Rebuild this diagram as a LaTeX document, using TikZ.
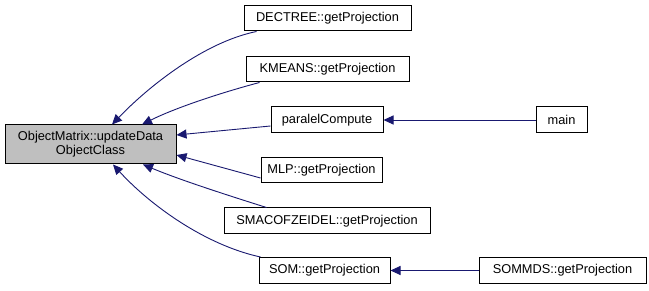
\documentclass[tikz,border=0pt]{standalone}
\usepackage{fontspec}
\setmainfont{Liberation Sans}
\usetikzlibrary{arrows.meta}
\definecolor{edgeblue}{RGB}{25,25,112}
\definecolor{focusgray}{RGB}{191,191,191}
\begin{document}
\begin{tikzpicture}[x=1pt,y=-1pt,
  fn/.style={draw=black,line width=1pt,fill=white,inner sep=0pt,
    font=\fontsize{12.8}{14}\selectfont,align=center},
  focus/.style={fn,fill=focusgray},
  call/.style={draw=edgeblue,line width=0.9pt,
    -{Triangle[length=10pt,width=9pt,fill=edgeblue]}}]
\useasboundingbox (0,0) rectangle (649,291);
\fill[white] (0,0) rectangle (649,291);

% callee
\node[focus,minimum width=171pt,minimum height=39pt] (obj) at (90.5,144.5)
  {ObjectMatrix::updateData\\ObjectClass};

% callers
\node[fn,minimum width=167pt,minimum height=25pt] (dectree) at (327.5,18.5) {DECTREE::getProjection};
\node[fn,minimum width=163pt,minimum height=25pt] (kmeans) at (327.5,69.5) {KMEANS::getProjection};
\node[fn,minimum width=112pt,minimum height=26pt] (paralel) at (327,120) {paralelCompute};
\node[fn,minimum width=51pt,minimum height=26pt] (mainfn) at (561.5,120) {main};
\node[fn,minimum width=121pt,minimum height=25pt] (mlp) at (321.5,170.5) {MLP::getProjection};
\node[fn,minimum width=206pt,minimum height=26pt] (smacof) at (327,221) {SMACOFZEIDEL::getProjection};
\node[fn,minimum width=131pt,minimum height=26pt] (som) at (324.5,270.5) {SOM::getProjection};
\node[fn,minimum width=167pt,minimum height=26pt] (sommds) at (562.5,270.5) {SOMMDS::getProjection};

% call edges
\draw[call] ([xshift=13pt]dectree.south west) .. controls (205,42) and (150,85) .. ([xshift=21.5pt]obj.north);
\draw[call] ([xshift=14pt]kmeans.south west) .. controls (220,93) and (175,108) .. ([xshift=51.5pt]obj.north);
\draw[call] ([yshift=-6pt]paralel.west) -- ([yshift=9.5pt]obj.east);
\draw[call] ([yshift=-7.5pt]mlp.west) -- ([yshift=-10.5pt]obj.east);
\draw[call] ([xshift=43pt]smacof.north west) .. controls (230,196) and (180,180) .. ([xshift=52.5pt]obj.south);
\draw[call] ([xshift=2pt]som.north west) .. controls (205,245) and (150,205) .. ([xshift=22.5pt]obj.south);
\draw[call] (mainfn.west) -- (paralel.east);
\draw[call] (sommds.west) -- (som.east);
\end{tikzpicture}
\end{document}
